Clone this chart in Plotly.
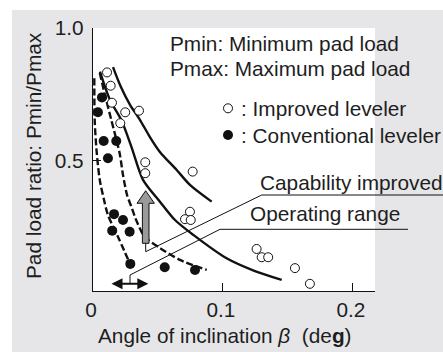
import plotly.graph_objects as go

# ---- data ----
# Improved leveler (open circles)
imp_x = [0.0108, 0.0136, 0.0146, 0.0248, 0.0354, 0.0210, 0.0402, 0.0402, 0.0767,
         0.0746, 0.0708, 0.0752, 0.1259, 0.1298, 0.1348, 0.1554, 0.1669]
imp_y = [0.833, 0.783, 0.719, 0.683, 0.689, 0.642, 0.495, 0.454, 0.460,
         0.309, 0.281, 0.278, 0.169, 0.138, 0.138, 0.097, 0.038]

# Conventional leveler (filled circles)
conv_x = [0.0069, 0.0038, 0.0082, 0.0179, 0.0115, 0.0162, 0.0231, 0.0148, 0.0282,
          0.0287, 0.0552, 0.0785]
conv_y = [0.739, 0.683, 0.575, 0.575, 0.510, 0.300, 0.278, 0.238, 0.234,
          0.113, 0.100, 0.090]

# Operating-range boundary curves, improved leveler (solid)
imp_up_x = [0.0154, 0.0215, 0.0285, 0.0362, 0.0438, 0.0515, 0.0644, 0.0746, 0.0913]
imp_up_y = [0.853, 0.778, 0.711, 0.654, 0.590, 0.534, 0.466, 0.410, 0.347]
imp_lo_x = [0.0054, 0.0131, 0.0218, 0.0295, 0.0385, 0.0515, 0.0631, 0.0772, 0.1028, 0.1246, 0.1452]
imp_lo_y = [0.836, 0.729, 0.654, 0.554, 0.429, 0.347, 0.278, 0.222, 0.134, 0.086, 0.053]

# Operating-range boundary curves, conventional leveler (dashed)
conv_out_x = [0.0010, 0.0013, 0.0027, 0.0052, 0.0085, 0.0115, 0.0192, 0.0238, 0.0285]
conv_out_y = [0.811, 0.654, 0.541, 0.429, 0.353, 0.297, 0.215, 0.165, 0.113]
conv_in_x = [0.0052, 0.0092, 0.0141, 0.0205, 0.0231, 0.0262, 0.0295, 0.0338, 0.0398,
             0.0515, 0.0669, 0.0875]
conv_in_y = [0.831, 0.748, 0.654, 0.529, 0.447, 0.372, 0.328, 0.271, 0.215,
             0.173, 0.128, 0.090]

x_tickvals = [0, 0.1, 0.2]
x_ticktext = ["0", "0.1", "0.2"]
y_tickvals = [0.5, 1.0]
y_ticktext = ["0.5", "1.0"]

# ---- styling ----
FONT = "Liberation Sans, Arial, Helvetica, sans-serif"
FS = 20.8
TXT = "#1e1e1e"
BG = "#e6e6e8"
LINE = "#111111"

fig = go.Figure()

for xs, ys, dash in [(imp_up_x, imp_up_y, "solid"), (imp_lo_x, imp_lo_y, "solid"),
                     (conv_out_x, conv_out_y, "7px,3px"), (conv_in_x, conv_in_y, "7px,3px")]:
    fig.add_trace(go.Scatter(x=xs, y=ys, mode="lines", line=dict(color=LINE, width=2.4, dash=dash,
                                                                 shape="spline", smoothing=0.8),
                             showlegend=False, hoverinfo="skip"))

fig.add_trace(go.Scatter(x=imp_x, y=imp_y, mode="markers",
                         marker=dict(symbol="circle", size=9, color="white",
                                     line=dict(color=LINE, width=1)),
                         showlegend=False))
fig.add_trace(go.Scatter(x=conv_x, y=conv_y, mode="markers",
                         marker=dict(symbol="circle", size=10, color=LINE,
                                     line=dict(color=LINE, width=0)),
                         showlegend=False))

# pixel -> paper helpers (plot area: x 93..375, y 28..291)
def px(x):
    return (x - 93) / 282.0

def py(y):
    return (291 - y) / 263.0

shapes = []
# white frame strips above/left of the grey panel
shapes.append(dict(type="rect", xref="paper", yref="paper", x0=px(-5), x1=px(448), y0=py(10), y1=py(-5),
                   fillcolor="white", line=dict(width=0), layer="below"))
shapes.append(dict(type="rect", xref="paper", yref="paper", x0=px(-5), x1=px(12), y0=py(357), y1=py(-5),
                   fillcolor="white", line=dict(width=0), layer="below"))

# grey "capability improved" arrow
cx = px(145.7)
sw = 3.3 / 282
hw = 8.7 / 282
yb, yh, yt = py(243.3), py(203.3), py(190.7)
path = (f"M {cx-sw},{yb} L {cx-sw},{yh} L {cx-hw},{yh} L {cx},{yt} "
        f"L {cx+hw},{yh} L {cx+sw},{yh} L {cx+sw},{yb} Z")
shapes.append(dict(type="path", xref="paper", yref="paper", path=path,
                   fillcolor="#9a9a9a", line=dict(color=LINE, width=1)))

# leader lines
def seg(x0, y0, x1, y1):
    return dict(type="line", xref="paper", yref="paper", x0=px(x0), y0=py(y0), x1=px(x1), y1=py(y1),
                line=dict(color=LINE, width=1))

shapes += [seg(145.7, 243.3, 145.7, 251.7), seg(145.7, 251.7, 261.7, 195), seg(261.7, 195, 443, 195),
           seg(130, 283.5, 130, 275), seg(130, 275, 220, 229.3), seg(220, 229.3, 408, 229.3)]

# legend glyphs
shapes.append(dict(type="circle", xref="paper", yref="paper", x0=px(223.5), x1=px(232.5),
                   y0=py(103.8), y1=py(112.8), fillcolor="white", line=dict(color=LINE, width=1)))
shapes.append(dict(type="circle", xref="paper", yref="paper", x0=px(223), x1=px(233),
                   y0=py(130), y1=py(140), fillcolor=LINE, line=dict(color=LINE, width=0)))

ann = []
def text(t, x, y, xanchor="left", **kw):
    d = dict(text=t, xref="paper", yref="paper", x=px(x), y=py(y), xanchor=xanchor, yanchor="middle",
             showarrow=False, font=dict(family=FONT, size=FS, color=TXT))
    d.update(kw)
    ann.append(d)

text("Pmin: Minimum pad load", 168, 43.3)
text("Pmax: Maximum pad load", 168, 68.3)
text(": Improved leveler", 239, 108.3)
text(": Conventional leveler", 239, 135)
text("Capability improved", 258, 182)
text("Operating range", 248, 213)
text("Angle of inclination <i>β</i>  (de<b>g</b>)", 225, 335, xanchor="center")
text("Pad load ratio: Pmin/Pmax", 33, 156, xanchor="center", textangle=-90)

# double-headed arrow for operating range
ann.append(dict(xref="paper", yref="paper", axref="pixel", ayref="pixel",
                x=px(148.3), y=py(283.7), ax=-38.3, ay=0, text="",
                showarrow=True, arrowhead=2, arrowside="end+start", arrowsize=1.1,
                arrowwidth=2, arrowcolor=LINE))

fig.update_layout(
    width=443, height=352,
    margin=dict(l=93, r=68, t=28, b=61),
    paper_bgcolor=BG, plot_bgcolor="white",
    font=dict(family=FONT, size=FS, color=TXT),
    shapes=shapes, annotations=ann, showlegend=False,
    xaxis=dict(range=[0, 0.217], tickvals=x_tickvals, ticktext=x_ticktext,
               showgrid=False, zeroline=False, showline=True, linecolor=LINE, linewidth=1.3,
               ticks="inside", ticklen=8, tickcolor=LINE, tickwidth=1,
               tickfont=dict(family=FONT, size=FS, color=TXT), ticklabelshift=-2),
    yaxis=dict(range=[0.011, 1.0], tickvals=y_tickvals, ticktext=y_ticktext,
               showgrid=False, zeroline=False, showline=True, linecolor=LINE, linewidth=1.3,
               ticks="inside", ticklen=8, tickcolor=LINE, tickwidth=1,
               tickfont=dict(family=FONT, size=FS, color=TXT), ticklabelstandoff=4),
)

fig.write_html("out.html")
